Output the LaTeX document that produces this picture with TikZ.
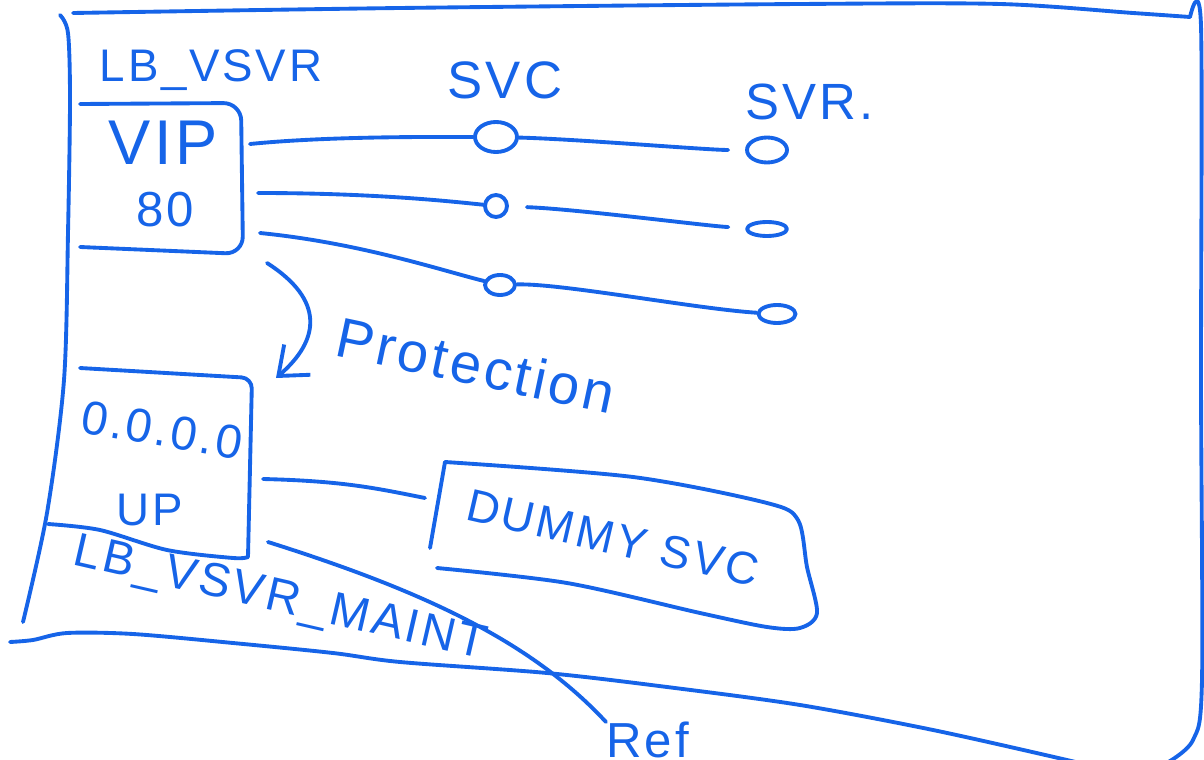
\documentclass[tikz,border=0pt]{standalone}
\usepackage{fontspec}
\newfontfamily\handfont[LetterSpace=6]{Liberation Sans}
\usetikzlibrary{arrows.meta, shapes.geometric, positioning}
\definecolor{pen_blue}{RGB}{22,100,232}
\newcommand{\penfont}[1]{\handfont\fontsize{#1}{#1}\selectfont}
\tikzset{
    pen/.style={draw=pen_blue, line width=2.2pt, line cap=round, line join=round},
    hand/.style={text=pen_blue, inner sep=0pt},
    ring/.style={ellipse, pen, inner sep=0pt},
}

\begin{document}
\begin{tikzpicture}[x=0.02cm, y=-0.02cm]
    \useasboundingbox (0,0) rectangle (1204,760);

    % outer LB_VSVR frame
    \draw[pen] plot[smooth] coordinates {(60,15) (68,33) (70,100) (68,233) (64,380) (47,513) (23,622)};
    \draw[pen] plot[smooth] coordinates {(73,13) (400,8) (800,4) (1000,4) (1133,13) (1190,17)};
    \draw[pen] plot[smooth] coordinates {(1190,17) (1201,26) (1201,380) (1202,680) (1193,740) (1165,764)};
    \draw[pen] plot[smooth] coordinates {(10,642) (33,640) (67,633) (133,634) (233,643) (333,653)
        (400,662) (547,673) (667,687) (800,705) (933,730) (1067,760) (1085,765)};

    % labels
    \node[hand, font=\penfont{26}] (lbl_vsvr) at (211,70) {LB\_VSVR};
    \node[hand, font=\penfont{30}] (lbl_svc) at (505,80) {SVC};
    \node[hand, font=\penfont{29}, anchor=west] (lbl_svr) at (745,102) {SVR.};

    % VIP box
    \draw[pen, rounded corners=10pt] (80,104) -- (241,103) -- (243,254) -- (80,247);
    \node[hand, font=\penfont{36}] (vip) at (163,143) {VIP};
    \node[hand, font=\penfont{28}] (port) at (165,210) {80};

    % services and servers
    \node[ring, minimum width=0.84cm, minimum height=0.6cm] (svc1) at (496,137) {};
    \node[ring, minimum width=0.44cm, minimum height=0.44cm] (svc2) at (496,206) {};
    \node[ring, minimum width=0.6cm, minimum height=0.4cm] (svc3) at (500,285) {};
    \node[ring, minimum width=0.8cm, minimum height=0.5cm] (svr1) at (767,150) {};
    \node[ring, minimum width=0.8cm, minimum height=0.28cm] (svr2) at (767,229) {};
    \node[ring, minimum width=0.74cm, minimum height=0.36cm] (svr3) at (777,314) {};

    \coordinate (v1) at (250,144);
    \coordinate (v2) at (258,193);
    \coordinate (v3) at (260,233);
    \draw[pen] (v1) .. controls +(80,-8) and +(-60,0) .. (svc1);
    \draw[pen] (v2) .. controls +(120,0) and +(-40,-4) .. (svc2);
    \draw[pen] (v3) .. controls +(100,10) and +(-60,-15) .. (svc3);
    \draw[pen, shorten >=0.34cm] (svc1) .. controls +(80,2) and +(-60,0) .. (svr1);
    \draw[pen, shorten <=0.36cm, shorten >=0.34cm] (svc2) .. controls +(80,3) and +(-60,-3) .. (svr2);
    \draw[pen] (svc3) .. controls +(60,-2) and +(-80,-5) .. (svr3);

    % protection
    \coordinate (prot_a) at (267,263);
    \coordinate (prot_b) at (276,378);
    \draw[pen, -{Straight Barb[length=0.5cm, width=0.8cm]}]
        (prot_a) .. controls (325,300) and (320,340) .. (prot_b);
    \node[hand, font=\penfont{32}, rotate=-12] (prot) at (476,365) {Protection};

    % maintenance box
    \draw[pen, rounded corners=6pt] (80,368) -- (252,378) -- (248,557);
    \draw[pen] plot[smooth] coordinates {(248,557) (233,558) (167,550) (100,530) (48,524)};
    \node[hand, font=\penfont{27}, rotate=-10] (zero) at (162,430) {0.0.0.0};
    \node[hand, font=\penfont{26}] (up) at (150,510) {UP};
    \node[hand, font=\penfont{27}, rotate=-13] (lbl_maint) at (280,600) {LB\_VSVR\_MAINT};

    % dummy service
    \draw[pen] (430,548) -- (445,462);
    \draw[pen] plot[smooth, tension=0.5] coordinates {(445,462) (633,477) (767,503) (798,520)
        (807,567) (817,613) (800,628) (767,627) (700,613) (567,583) (437,568)};
    \node[hand, font=\penfont{26}, rotate=-13] (dummy) at (613,538) {DUMMY SVC};
    \coordinate (m_out) at (263,479);
    \coordinate (d_in) at (425,498);
    \draw[pen] (m_out) .. controls +(80,2) and +(-50,-10) .. (d_in);

    % reference
    \node[hand, font=\penfont{28}, anchor=north west] (ref) at (606,722) {Ref};
    \coordinate (m_ref) at (268,542);
    \draw[pen] (m_ref) .. controls (420,590) and (530,640) .. (ref.north west);
\end{tikzpicture}
\end{document}
